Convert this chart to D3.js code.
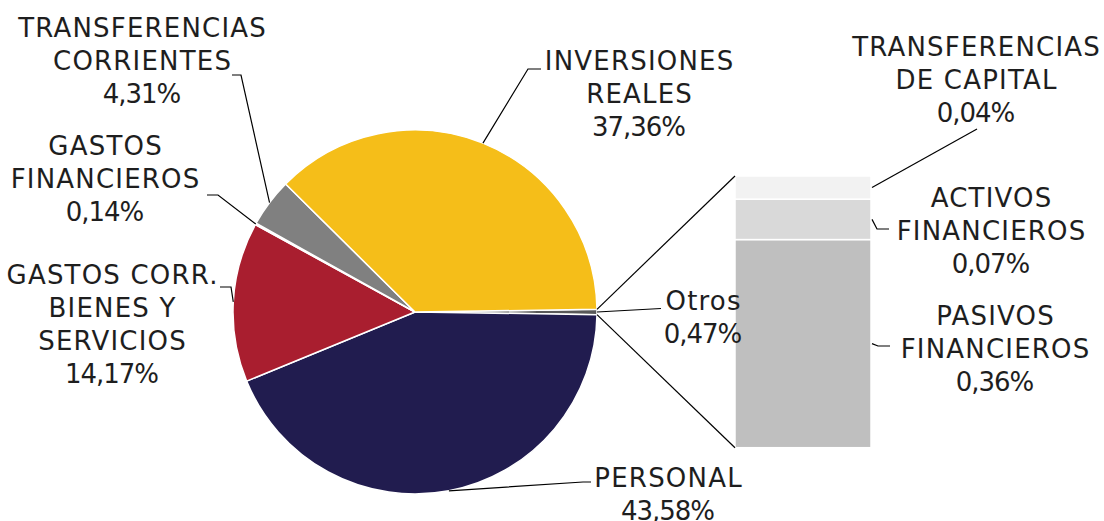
<!DOCTYPE html>
<html>
<head>
<meta charset="utf-8">
<script src="https://cdn.jsdelivr.net/npm/d3@7"></script>
<style>
  html, body { margin: 0; padding: 0; background: #fff; }
  svg { display: block; }
  text { font-family: "DejaVu Sans", sans-serif; fill: #1e1e1e; }
</style>
</head>
<body>
<svg id="chart" width="1104" height="521"></svg>
<script>
// ---- Data ----
const pieCategories = ["Otros", "PERSONAL", "GASTOS CORR. BIENES Y SERVICIOS", "GASTOS FINANCIEROS", "TRANSFERENCIAS CORRIENTES", "INVERSIONES REALES"];
const pieValues = [0.47, 43.58, 14.17, 0.14, 4.31, 37.36];
const pieLabelLines = [
  ["Otros", "0,47%"],
  ["PERSONAL", "43,58%"],
  ["GASTOS CORR.", "BIENES Y", "SERVICIOS", "14,17%"],
  ["GASTOS", "FINANCIEROS", "0,14%"],
  ["TRANSFERENCIAS", "CORRIENTES", "4,31%"],
  ["INVERSIONES", "REALES", "37,36%"]
];
const barCategories = ["PASIVOS FINANCIEROS", "ACTIVOS FINANCIEROS", "TRANSFERENCIAS DE CAPITAL"];
const barValues = [0.36, 0.07, 0.04];
const barLabelLines = [
  ["PASIVOS", "FINANCIEROS", "0,36%"],
  ["ACTIVOS", "FINANCIEROS", "0,07%"],
  ["TRANSFERENCIAS", "DE CAPITAL", "0,04%"]
];

// ---- Styles / layout ----
const pieColors = ["#595959", "#211c4f", "#a91e2f", "#d9d9d9", "#808080", "#f5be19"];
const barColors = ["#bfbfbf", "#d9d9d9", "#f2f2f2"];
const cx = 415, cy = 312, R = 182;
const fontSize = 26, lineH = 33, letterSp = 1.2, numLetterSp = -1;

// label layout: center x, y of first line center, leader polyline waypoints (label side)
const pieLabelLayout = [
  { x: 703, y: 300, leader: [[661, 308.5]] },
  { x: 668, y: 477, leader: [[583, 482], [591, 482]] },
  { x: 112, y: 274, leader: [[231, 287], [220, 287]] },
  { x: 105, y: 145, leader: [[218, 195], [207, 195]] },
  { x: 142, y: 27, leader: [[241, 75], [232, 75]] },
  { x: 639, y: 60, leader: [[528, 69], [541, 69]] }
];
const barLabelLayout = [
  { x: 995, y: 315, leader: [[878, 346], [890, 346]] },
  { x: 991, y: 197, leader: [[877, 229], [889, 229]] },
  { x: 976, y: 46, leader: [[977, 129]] }
];

const svg = d3.select("#chart");

// ---- Pie ----
const otrosDeg = pieValues[0] / d3.sum(pieValues) * 360;
const start = (90 - otrosDeg / 2) * Math.PI / 180;
const pie = d3.pie().sort(null).value(d => d).startAngle(start).endAngle(start + 2 * Math.PI);
const arcs = pie(pieValues);
const arcGen = d3.arc().innerRadius(0).outerRadius(R);

const g = svg.append("g").attr("transform", `translate(${cx},${cy})`);
g.selectAll("path").data(arcs).join("path")
  .attr("d", arcGen)
  .attr("fill", (d, i) => pieColors[i])
  .attr("stroke", "#fff")
  .attr("stroke-width", 1.5)
  .attr("stroke-linejoin", "round");

// ---- Bar (stacked, of-pie) ----
const barX0 = 735, barX1 = 871, barTop = 176, barBottom = 447.7;
const yBar = d3.scaleLinear().domain([0, d3.sum(barValues)]).range([barBottom, barTop]);
const stacks = [];
let acc = 0;
barValues.forEach((v, i) => { stacks.push({ v, i, y0: acc, y1: acc + v }); acc += v; });
svg.append("g").selectAll("rect").data(stacks).join("rect")
  .attr("x", barX0)
  .attr("width", barX1 - barX0)
  .attr("y", d => yBar(d.y1))
  .attr("height", d => yBar(d.y0) - yBar(d.y1))
  .attr("fill", d => barColors[d.i])
  .attr("stroke", "#fff")
  .attr("stroke-width", 1.5);

// connector lines from Otros slice edges to bar
const otrosArc = arcs[0];
const pt = a => [cx + R * Math.sin(a), cy - R * Math.cos(a)];
const pTop = pt(otrosArc.startAngle), pBot = pt(otrosArc.endAngle);
const lineGen = d3.line();
svg.append("path").attr("d", lineGen([pTop, [barX0, barTop]]))
  .attr("stroke", "#000").attr("stroke-width", 1.2).attr("fill", "none");
svg.append("path").attr("d", lineGen([pBot, [barX0, barBottom]]))
  .attr("stroke", "#000").attr("stroke-width", 1.2).attr("fill", "none");

// ---- Leaders and labels ----
function drawLabel(lines, lay) {
  const t = svg.append("text")
    .attr("text-anchor", "middle")
    .attr("font-size", fontSize);
  lines.forEach((s, k) => {
    const ls = s.includes("%") ? numLetterSp : letterSp;
    t.append("tspan")
      .attr("letter-spacing", ls)
      .attr("x", lay.x + ls / 2)
      .attr("y", lay.y + k * lineH + 9.5)
      .text(s);
  });
}

arcs.forEach((a, i) => {
  const mid = (a.startAngle + a.endAngle) / 2;
  const p0 = pt(mid);
  const pts = [p0, ...pieLabelLayout[i].leader];
  svg.append("path").attr("d", lineGen(pts))
    .attr("stroke", "#000").attr("stroke-width", 1.2).attr("fill", "none");
  drawLabel(pieLabelLines[i], pieLabelLayout[i]);
});

stacks.forEach((s, i) => {
  const p0 = [barX1 + 1, (yBar(s.y0) + yBar(s.y1)) / 2];
  const pts = [p0, ...barLabelLayout[i].leader];
  svg.append("path").attr("d", lineGen(pts))
    .attr("stroke", "#000").attr("stroke-width", 1.2).attr("fill", "none");
  drawLabel(barLabelLines[i], barLabelLayout[i]);
});
</script>
</body>
</html>
